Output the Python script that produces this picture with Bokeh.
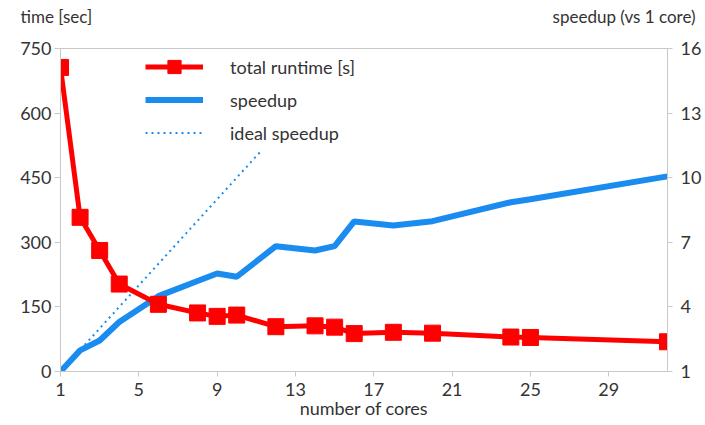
from bokeh.plotting import figure
from bokeh.models import Range1d, LinearAxis, FixedTicker, Legend, LegendItem, Title
from bokeh.embed import file_html
from bokeh.resources import INLINE

cores = [1, 2, 3, 4, 6, 8, 9, 10, 12, 14, 15, 16, 18, 20, 24, 25, 32]
runtime = [706, 358, 281, 203, 156, 136, 128, 131, 104, 106, 103, 88, 91, 89, 80, 79, 69]
speedup = [1.0, 1.98, 2.44, 3.3, 4.5, 5.2, 5.55, 5.4, 6.82, 6.62, 6.82, 7.97, 7.78, 7.98, 8.86, 9.0, 10.06]
ideal_x = [1, 11.3]
ideal_y = [1, 11.3]
x_ticks = [1, 5, 9, 13, 17, 21, 25, 29]
time_ticks = [0, 150, 300, 450, 600, 750]
speed_ticks = [1, 4, 7, 10, 13, 16]

FONT = "Lato"
TXT = "#333333"
AX = "#c8c8c8"
RED = "#ff0000"
BLUE = "#1a8cf0"

p = figure(frame_width=607, frame_height=323, output_backend="svg", toolbar_location=None,
           x_range=Range1d(1, 32), y_range=Range1d(0, 750),
           min_border_left=60, min_border_right=36, min_border_top=48, min_border_bottom=40)
p.extra_y_ranges = {"speed": Range1d(1, 16)}
p.grid.visible = False
p.outline_line_color = AX
p.background_fill_color = "white"
p.border_fill_color = "white"

def style(ax, out, standoff):
    ax.axis_line_color = AX
    ax.major_tick_line_color = AX
    ax.minor_tick_line_color = None
    ax.major_tick_out = out
    ax.major_tick_in = 0
    ax.major_label_standoff = standoff
    ax.major_label_text_font = FONT
    ax.major_label_text_font_size = "18px"
    ax.major_label_text_color = TXT

p.xaxis.ticker = FixedTicker(ticks=x_ticks)
p.yaxis.ticker = FixedTicker(ticks=time_ticks)
style(p.xaxis[0], 5, 6)
style(p.yaxis[0], 6, 3)
p.xaxis.axis_label = "number of cores"
p.xaxis.axis_label_text_font = FONT
p.xaxis.axis_label_text_font_size = "18px"
p.xaxis.axis_label_text_font_style = "normal"
p.xaxis.axis_label_text_color = TXT
p.xaxis.axis_label_standoff = -2

rax = LinearAxis(y_range_name="speed", ticker=FixedTicker(ticks=speed_ticks))
style(rax, 5, 8)
p.add_layout(rax, "right")

ideal = p.line(ideal_x, ideal_y, y_range_name="speed", line_color=BLUE, line_width=2,
               line_dash="2 4")
sp = p.line(cores, speedup, y_range_name="speed", line_color=BLUE, line_width=6)
rl = p.line(cores, runtime, line_color=RED, line_width=5)
rs = p.scatter(cores, runtime, marker="square", size=16, fill_color=RED, line_color=RED)

legend = Legend(items=[
    LegendItem(label="total runtime [s]", renderers=[rl, rs]),
    LegendItem(label="speedup", renderers=[sp]),
    LegendItem(label="ideal speedup", renderers=[ideal]),
], location=(85, 222))
legend.glyph_width = 58
legend.glyph_height = 33
legend.label_height = 33
legend.spacing = 0
legend.padding = 0
legend.margin = 0
legend.label_standoff = 27
legend.border_line_color = None
legend.background_fill_alpha = 0
legend.label_text_font = FONT
legend.label_text_font_size = "18px"
legend.label_text_color = TXT
p.add_layout(legend, "center")

t1 = Title(text="time [sec]", align="left", offset=-40, standoff=-86, vertical_align="top",
           text_font=FONT, text_font_size="17px", text_font_style="normal", text_color=TXT)
t2 = Title(text="speedup (vs 1 core)", align="right", offset=-28, standoff=-86, vertical_align="top",
           text_font=FONT, text_font_size="17px", text_font_style="normal", text_color=TXT)
p.add_layout(t1, "above")
p.add_layout(t2, "above")

open("out.html", "w").write(file_html(p, INLINE))
